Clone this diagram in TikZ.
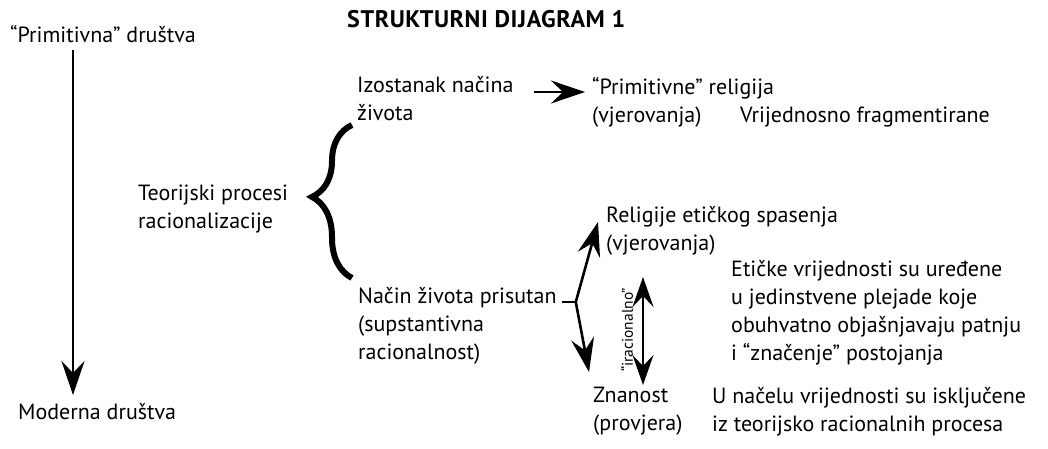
\documentclass[tikz,border=0pt]{standalone}
\usepackage{fontspec}
\setmainfont{PT Sans}
\usetikzlibrary{arrows.meta,decorations.pathreplacing}

\tikzset{
  txt/.style={anchor=base west, align=left, inner sep=0pt, font=\fontsize{22}{28}\selectfont},
  tip/.style={line width=2.6pt, -{Stealth[length=34pt,width=23pt,inset=12pt]}},
  dtip/.style={line width=2.6pt, {Stealth[length=30pt,width=21pt,inset=11pt]}-{Stealth[length=30pt,width=21pt,inset=11pt]}},
  bracestyle/.style={line width=6pt, decorate, decoration={brace, amplitude=40pt, aspect=0.53}}
}

\begin{document}
\begin{tikzpicture}[x=1pt,y=-1pt]
\useasboundingbox (0,0) rectangle (1048,449);

% left axis
\node[txt] (prim) at (10,43) {“Primitivna” društva};
\node[txt] (moderna) at (18,419) {Moderna društva};
\draw[tip] ([xshift=63pt,yshift=-7pt]prim.base west) -- ([xshift=55pt,yshift=24pt]moderna.base west);

\node[txt, font=\bfseries\fontsize{24}{28}\selectfont\addfontfeature{LetterSpace=2.5}] (title) at (347,28) {STRUKTURNI DIJAGRAM 1};

% upper branch
\node[txt] (izost) at (357,121) {Izostanak načina\\života};
\node[txt] (primrel) at (592,123) {“Primitivne” religija\\(vjerovanja)};
\node[txt] (fragm) at (740,123) {Vrijednosno fragmentirane};
\draw[tip] ([xshift=20pt,yshift=29pt]izost.base east) -- ([xshift=-7pt,yshift=31pt]primrel.base west);

% brace
\node[txt] (teor) at (138,228) {Teorijski procesi\\racionalizacije};
\draw[bracestyle] (352,278) -- (352,125);

% lower branch
\node[txt] (nacin) at (358,359) {Način života prisutan\\(supstantivna\\racionalnost)};
\node[txt] (relig) at (606,250) {Religije etičkog spasenja\\(vjerovanja)};
\node[txt] (znan) at (593,430) {Znanost\\(provjera)};
\node[txt] (etic) at (731,360) {Etičke vrijednosti su uređene\\u jedinstvene plejade koje\\obuhvatno objašnjavaju patnju\\i “značenje” postojanja};
\node[txt] (unac) at (712,431) {U načelu vrijednosti su isključene\\iz teorijsko racionalnih procesa};

\coordinate (fork) at ([xshift=19pt,yshift=57pt]nacin.base east);
\draw[line width=2.6pt] ([xshift=5pt,yshift=57pt]nacin.base east) -- (fork);
\draw[tip] (fork) -- ([xshift=-8pt,yshift=28pt]relig.base west);
\draw[tip] (fork) -- ([xshift=-4pt,yshift=58pt]znan.base west);

\draw[dtip] ([xshift=37pt,yshift=-27pt]relig.base west) -- ([xshift=50pt,yshift=45pt]znan.base west);
\node[inner sep=0pt, rotate=90, font=\fontsize{15.5}{18}\selectfont] (irac) at (627,330) {“iracionalno”};

\end{tikzpicture}
\end{document}
